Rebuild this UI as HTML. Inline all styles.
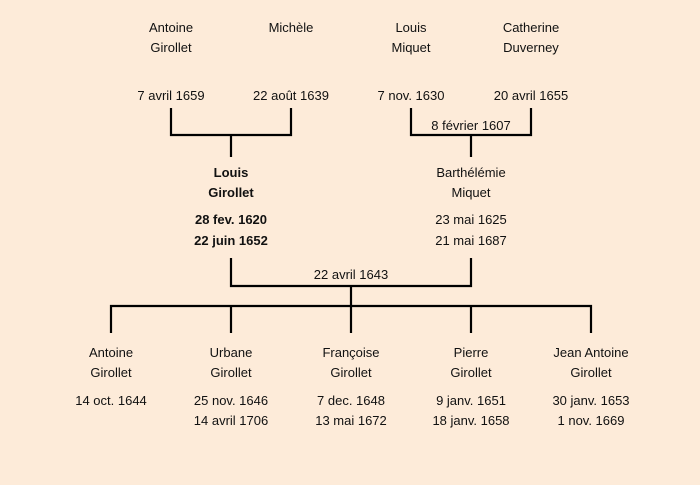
<!DOCTYPE html>
<html><head><meta charset="utf-8"><style>
html,body{margin:0;padding:0;background:#FDEBD9;}
svg{display:block}
text{font-family:"Comic Sans MS","Liberation Sans",sans-serif;font-size:13px;fill:#111;text-anchor:middle}
.b{font-weight:bold}
</style></head><body>
<svg width="700" height="485" viewBox="0 0 700 485">
<rect width="700" height="485" fill="#FDEBD9"/>
<g stroke="#000" stroke-width="2.2" fill="none">
<path d="M171 108V135H291V108M231 135V157"/>
<path d="M411 108V135H531V108M471 135V157"/>
<path d="M231 258V286H471V258M351 286V306"/>
<path d="M111 333V306H591V333M231 306V333M351 306V333M471 306V333"/>
</g>
<text x="171" y="32">Antoine</text><text x="171" y="52">Girollet</text>
<text x="291" y="32">Michèle</text>
<text x="411" y="32">Louis</text><text x="411" y="52">Miquet</text>
<text x="531" y="32">Catherine</text><text x="531" y="52">Duverney</text>
<text x="171" y="100">7 avril 1659</text>
<text x="291" y="100">22 août 1639</text>
<text x="411" y="100">7 nov. 1630</text>
<text x="531" y="100">20 avril 1655</text>
<text x="471" y="130">8 février 1607</text>
<text class="b" x="231" y="177">Louis</text><text class="b" x="231" y="197">Girollet</text>
<text class="b" x="231" y="224">28 fev. 1620</text><text class="b" x="231" y="245">22 juin 1652</text>
<text x="471" y="177">Barthélémie</text><text x="471" y="197">Miquet</text>
<text x="471" y="224">23 mai 1625</text><text x="471" y="245">21 mai 1687</text>
<text x="351" y="279">22 avril 1643</text>
<text x="111" y="357">Antoine</text><text x="111" y="377">Girollet</text>
<text x="111" y="405">14 oct. 1644</text>
<text x="231" y="357">Urbane</text><text x="231" y="377">Girollet</text>
<text x="231" y="405">25 nov. 1646</text><text x="231" y="425">14 avril 1706</text>
<text x="351" y="357">Françoise</text><text x="351" y="377">Girollet</text>
<text x="351" y="405">7 dec. 1648</text><text x="351" y="425">13 mai 1672</text>
<text x="471" y="357">Pierre</text><text x="471" y="377">Girollet</text>
<text x="471" y="405">9 janv. 1651</text><text x="471" y="425">18 janv. 1658</text>
<text x="591" y="357">Jean Antoine</text><text x="591" y="377">Girollet</text>
<text x="591" y="405">30 janv. 1653</text><text x="591" y="425">1 nov. 1669</text>
</svg>
</body></html>
